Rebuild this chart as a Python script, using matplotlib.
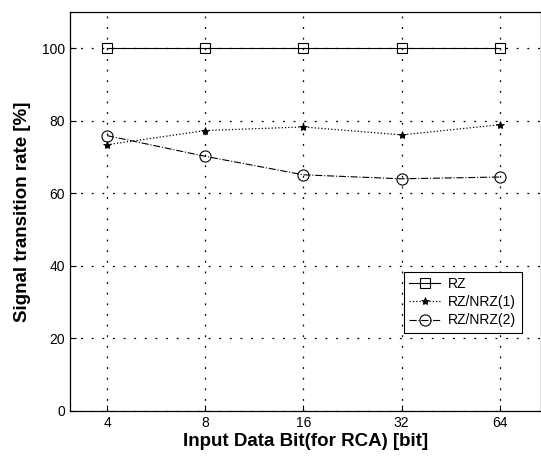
import matplotlib.pyplot as plt
import numpy as np

# input data bits (categorical positions)
bits = ['4', '8', '16', '32', '64']
rz = [100, 100, 100, 100, 100]
rz_nrz1 = [73.4, 77.3, 78.3, 76.1, 78.9]
rz_nrz2 = [75.9, 70.2, 65.1, 64.0, 64.5]

plt.rcParams['font.family'] = ['Liberation Sans', 'DejaVu Sans']

fig = plt.figure(figsize=(5.41, 4.59), dpi=100)
ax = fig.add_axes([0.129, 0.1046, 0.871, 0.8694])

x = np.arange(1, len(bits) + 1)
ax.plot(x, rz, color='black', linestyle='-', linewidth=0.8, marker='s',
        markersize=7, markerfacecolor='none', markeredgewidth=0.8, label='RZ')
ax.plot(x, rz_nrz1, color='black', linestyle=':', linewidth=0.9, marker='*',
        markersize=6, markeredgewidth=0.6, label='RZ/NRZ(1)')
ax.plot(x, rz_nrz2, color='black', linestyle='-.', linewidth=0.8, marker='o',
        markersize=8, markerfacecolor='none', markeredgewidth=0.8, label='RZ/NRZ(2)')

ax.set_xlim(0.62, 5.42)
ax.set_ylim(0, 110)
ax.set_xticks(x)
ax.set_xticklabels(bits)
ax.set_yticks([0, 20, 40, 60, 80, 100])
ax.tick_params(direction='in', labelsize=10, length=4, width=0.8)
ax.grid(True, color='black', linestyle=(0, (1.5, 7)), linewidth=0.9)

ax.set_xlabel('Input Data Bit(for RCA) [bit]', fontsize=13.5, fontweight='bold', labelpad=2)
ax.set_ylabel('Signal transition rate [%]', fontsize=13.5, fontweight='bold', labelpad=8)

for s in ax.spines.values():
    s.set_linewidth(0.9)

leg = ax.legend(loc='lower right', bbox_to_anchor=(0.974, 0.178), fontsize=10,
                frameon=True, fancybox=False, edgecolor='black', framealpha=1,
                handlelength=2.2, borderpad=0.4, labelspacing=0.3, handletextpad=0.6)
leg.get_frame().set_linewidth(0.8)

fig.savefig('out.png', dpi=100)
